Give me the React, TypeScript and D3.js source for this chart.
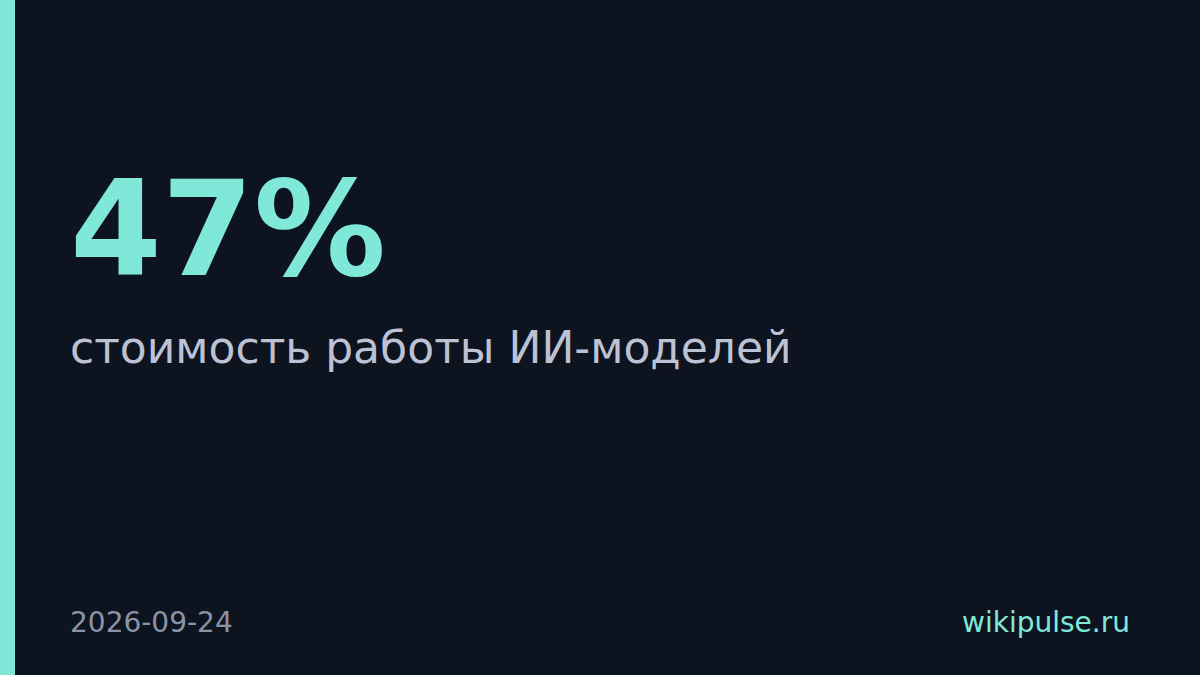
import * as d3 from "d3";

const WIDTH = 1200;
const HEIGHT = 675;

// card content
const values = [47];
const labels = ["стоимость работы ИИ-моделей"];
const dates = ["2026-09-24"];
const sources = ["wikipulse.ru"];

const BG = "#0d1420";
const ACCENT = "#80e8d9";
const FONT = "'DejaVu Sans', sans-serif";

export default function App() {
  const fmt = d3.format("d");
  const valueText = `${fmt(values[0])}%`;

  return (
    <div style={{ position: "fixed", left: 0, top: 0 }}>
      <svg width={WIDTH} height={HEIGHT} style={{ display: "block" }}>
        <rect width={WIDTH} height={HEIGHT} fill={BG} />
        {/* accent stripe */}
        <rect x={0} y={0} width={15} height={HEIGHT} fill={ACCENT} />

        <text
          x={70}
          y={275}
          fontFamily={FONT}
          fontWeight="bold"
          fontSize={132}
          fill={ACCENT}
        >
          {valueText}
        </text>

        <text x={70} y={363} fontFamily={FONT} fontSize={44} fill="#bcc1d4">
          {labels[0]}
        </text>

        <text x={70} y={632} fontFamily={FONT} fontSize={28} fill="#8b93a6">
          {dates[0]}
        </text>
        <text
          x={1130}
          y={632}
          textAnchor="end"
          fontFamily={FONT}
          fontSize={28}
          fill={ACCENT}
        >
          {sources[0]}
        </text>
      </svg>
    </div>
  );
}
